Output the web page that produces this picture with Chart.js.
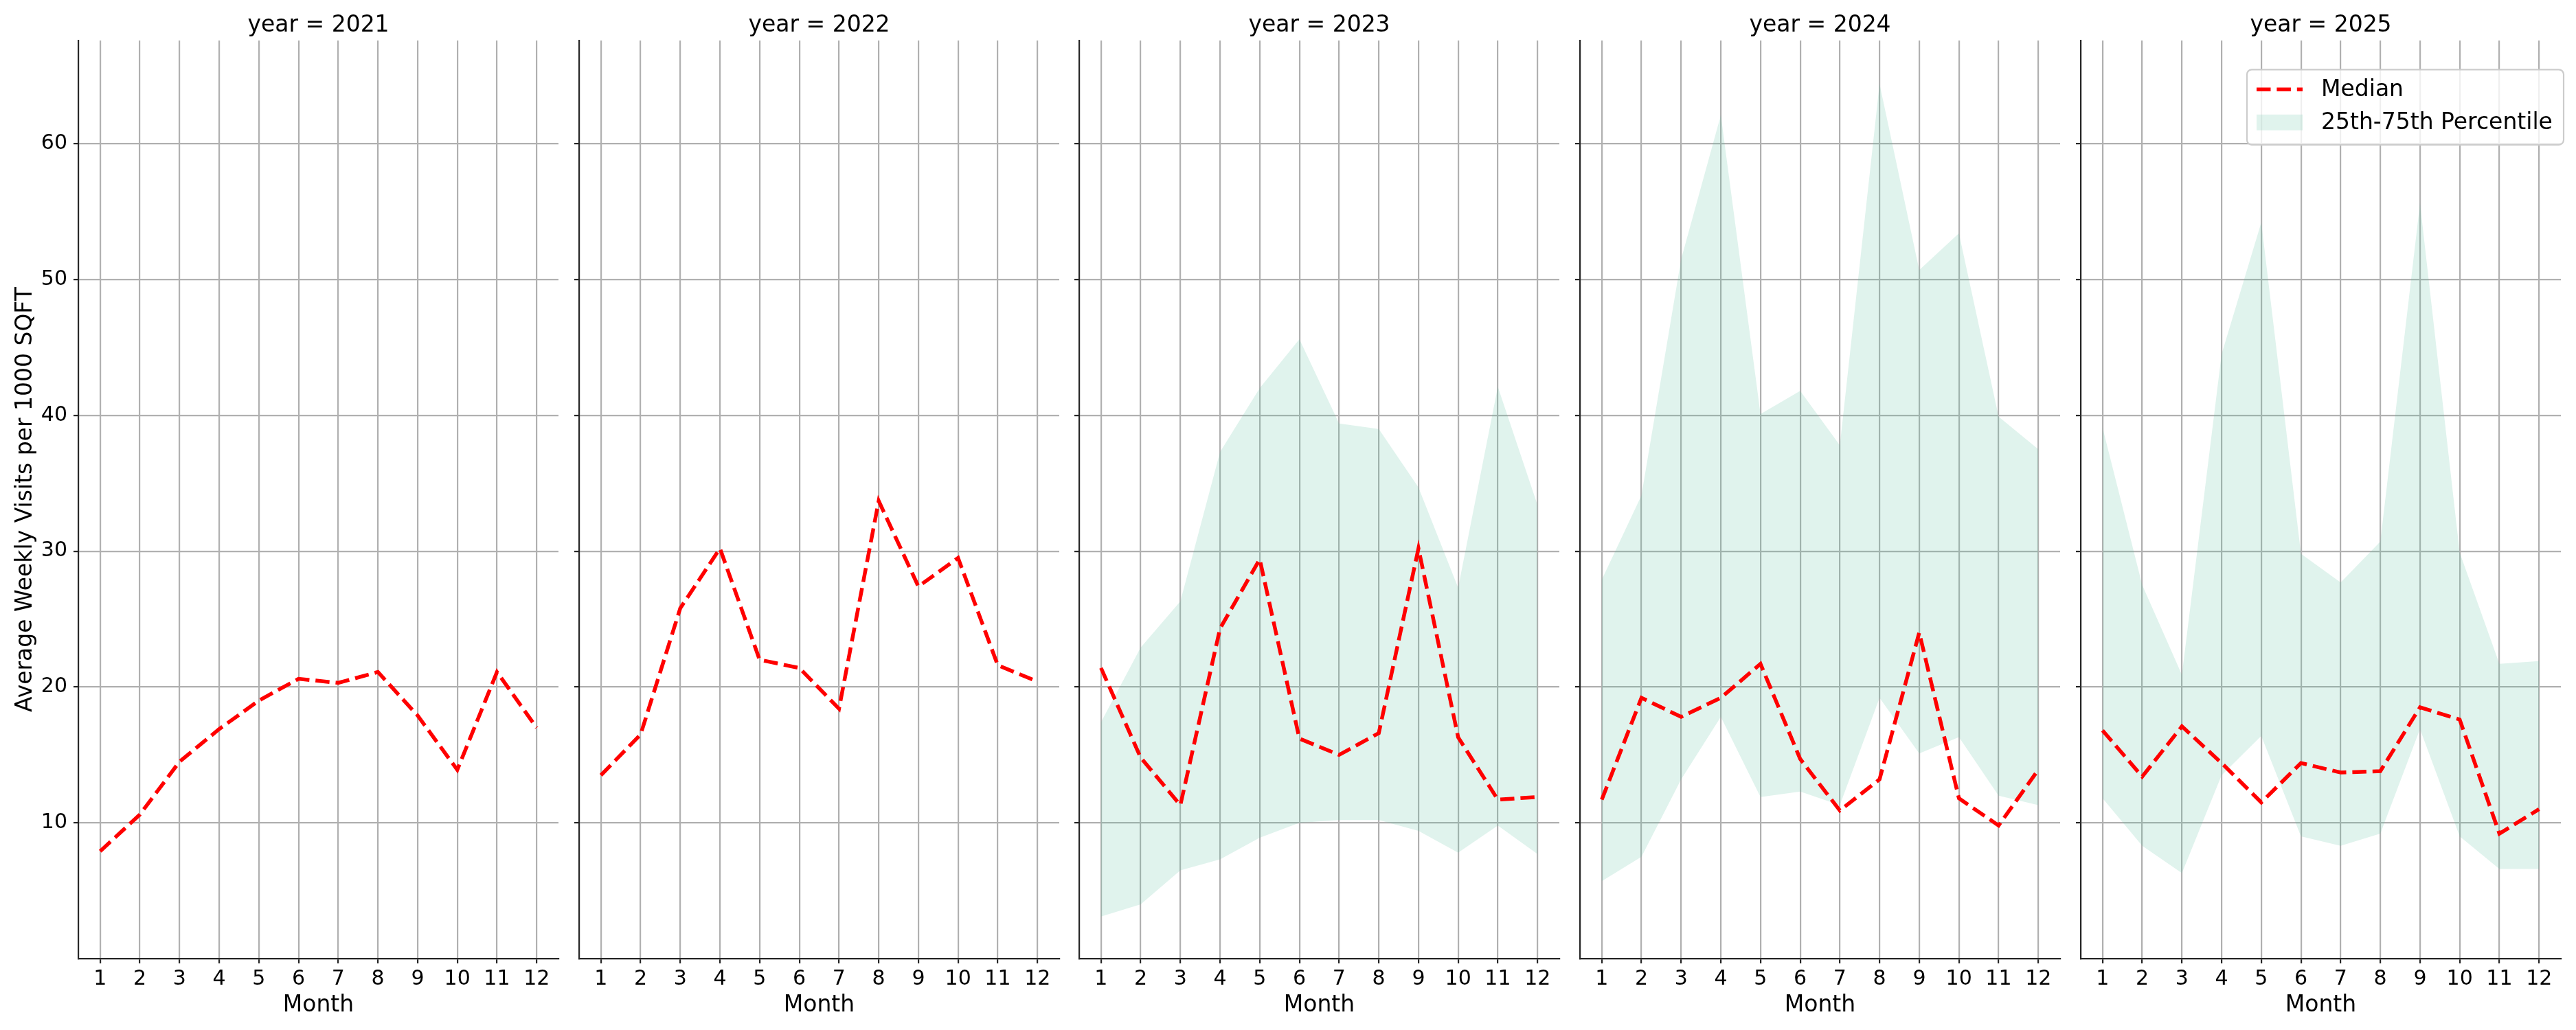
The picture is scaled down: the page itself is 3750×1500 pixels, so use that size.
<!DOCTYPE html>
<html>
<head>
<meta charset="utf-8">
<title>Average Weekly Visits per 1000 SQFT by year</title>
<script src="https://cdn.jsdelivr.net/npm/chart.js@4.4.1/dist/chart.umd.min.js"></script>
<style>
  html, body { margin: 0; padding: 0; background: #fff; }
  #wrap { position: relative; width: 3750px; height: 1500px; overflow: hidden; background: #fff; }
  #wrap canvas { position: absolute; top: 0; }
</style>
</head>
<body>
<div id="wrap"></div>
<script>
const years = [2021, 2022, 2023, 2024, 2025];
const months = [1, 2, 3, 4, 5, 6, 7, 8, 9, 10, 11, 12];
const yTicks = [10, 20, 30, 40, 50, 60];

// medianas por ano
const median2021 = [7.9, 10.6, 14.5, 16.9, 19.0, 20.6, 20.3, 21.1, 17.9, 13.9, 21.1, 17.0];
const median2022 = [13.5, 16.5, 25.8, 30.2, 22.0, 21.4, 18.4, 33.7, 27.4, 29.5, 21.6, 20.4];
const median2023 = [21.4, 14.8, 11.3, 24.3, 29.4, 16.2, 15.0, 16.6, 30.2, 16.3, 11.7, 11.9];
const median2024 = [11.7, 19.2, 17.8, 19.2, 21.7, 14.7, 10.9, 13.2, 24.0, 11.8, 9.8, 13.9];
const median2025 = [16.8, 13.4, 17.1, 14.4, 11.5, 14.4, 13.7, 13.8, 18.5, 17.6, 9.2, 11.0];

// faixa 25-75 (so existe a partir de 2023)
const p25_2023 = [3.1, 4.0, 6.5, 7.3, 8.9, 10.0, 10.2, 10.2, 9.4, 7.8, 9.8, 7.7];
const p75_2023 = [17.4, 22.9, 26.3, 37.3, 42.0, 45.6, 39.4, 39.0, 34.7, 27.3, 42.1, 33.4];
const p25_2024 = [5.7, 7.5, 13.2, 17.8, 11.9, 12.3, 11.3, 19.2, 15.1, 16.3, 12.0, 11.3];
const p75_2024 = [27.9, 34.1, 51.5, 62.1, 40.1, 41.8, 37.8, 64.4, 50.7, 53.4, 39.9, 37.5];
const p25_2025 = [11.8, 8.3, 6.3, 13.5, 16.4, 9.0, 8.3, 9.2, 16.9, 9.0, 6.6, 6.6];
const p75_2025 = [39.1, 27.5, 20.9, 44.5, 54.2, 29.8, 27.7, 30.7, 55.6, 29.9, 21.7, 21.9];

const medians = [median2021, median2022, median2023, median2024, median2025];
const lowers = [null, null, p25_2023, p25_2024, p25_2025];
const uppers = [null, null, p75_2023, p75_2024, p75_2025];

const FONT = 'DejaVu Sans';
const INK = '#262626';
const GRID = '#b0b0b0';
const BAND = 'rgba(102, 194, 165, 0.2)';
const PLOT_W = 699;
const RIGHT_PAD = 24;

Chart.defaults.font.family = FONT;
Chart.defaults.color = '#000';

const pts = (vals) => months.map((m, k) => ({ x: m, y: vals[k] }));

// legenda desenhada dentro do ultimo painel, com moldura
const legendBox = {
    id: 'legendBox',
    afterDraw(chart) {
        const { ctx, chartArea } = chart;
        const w = 461, h = 109.5;
        const x0 = chartArea.right + 4 - w;
        const y0 = chartArea.top + 42.3;
        ctx.save();
        ctx.beginPath();
        ctx.roundRect(x0, y0, w, h, 7);
        ctx.fillStyle = 'rgba(255,255,255,0.8)';
        ctx.fill();
        ctx.lineWidth = 2.2;
        ctx.strokeStyle = '#cccccc';
        ctx.stroke();

        const items = chart.data.datasets.filter(d => d.label);
        ctx.font = '33px "' + FONT + '"';
        ctx.textBaseline = 'middle';
        ctx.textAlign = 'left';
        items.forEach((ds, k) => {
            const yRow = y0 + 29 + k * 48;
            if (ds.fill) {
                ctx.fillStyle = ds.backgroundColor;
                ctx.fillRect(x0 + 14, yRow - 11.5, 67, 23);
            } else {
                ctx.beginPath();
                ctx.setLineDash(ds.borderDash);
                ctx.lineWidth = ds.borderWidth;
                ctx.strokeStyle = ds.borderColor;
                ctx.moveTo(x0 + 14, yRow);
                ctx.lineTo(x0 + 81, yRow);
                ctx.stroke();
                ctx.setLineDash([]);
            }
            ctx.fillStyle = '#000';
            ctx.fillText(ds.label, x0 + 108, yRow + 1);
        });
        ctx.restore();
    }
};

const wrap = document.getElementById('wrap');

years.forEach((year, i) => {
    const first = i === 0;
    const yW = first ? 114 : 20;
    const plotLeft = Math.round(114 + i * 728.7);

    const canvas = document.createElement('canvas');
    canvas.width = yW + PLOT_W + RIGHT_PAD;
    canvas.height = 1500;
    canvas.style.left = (plotLeft - yW) + 'px';
    wrap.appendChild(canvas);

    const datasets = [{
        label: 'Median',
        data: pts(medians[i]),
        borderColor: '#ff0000',
        borderWidth: 5.5,
        borderDash: [20.5, 8.9],
        borderCapStyle: 'butt',
        pointRadius: 0,
        tension: 0,
        fill: false
    }];
    if (uppers[i]) {
        datasets.push({
            label: '25th-75th Percentile',
            data: pts(uppers[i]),
            borderColor: 'transparent',
            borderWidth: 0,
            backgroundColor: BAND,
            pointRadius: 0,
            tension: 0,
            fill: '+1'
        });
        datasets.push({
            label: '',
            data: pts(lowers[i]),
            borderColor: 'transparent',
            borderWidth: 0,
            pointRadius: 0,
            tension: 0,
            fill: false
        });
    }

    new Chart(canvas, {
        type: 'line',
        data: { datasets },
        options: {
            responsive: false,
            animation: false,
            events: [],
            layout: { padding: { left: 0, right: RIGHT_PAD, top: 0, bottom: 0 } },
            plugins: {
                legend: { display: false },
                tooltip: { enabled: false },
                title: {
                    display: true,
                    text: 'year = ' + year,
                    fullSize: false,
                    color: '#000',
                    font: { size: 33, weight: 'normal' },
                    padding: { top: 18, bottom: 1.4 }
                }
            },
            scales: {
                x: {
                    type: 'linear',
                    bounds: 'data',
                    min: 0.45,
                    max: 12.55,
                    afterBuildTicks: (axis) => { axis.ticks = months.map(v => ({ value: v })); },
                    afterFit: (axis) => { axis.height = 104; },
                    grid: { color: GRID, lineWidth: 2.2, tickColor: INK, tickWidth: 2.2, tickLength: 7 },
                    border: { color: INK, width: 2.2 },
                    ticks: {
                        autoSkip: false, maxRotation: 0, padding: 5,
                        color: '#000', font: { size: 30 },
                        callback: (v) => String(v)
                    },
                    title: {
                        display: true, text: 'Month', color: '#000',
                        font: { size: 33 }, padding: { top: 16, bottom: 16 }
                    }
                },
                y: {
                    type: 'linear',
                    bounds: 'data',
                    min: 0,
                    max: 67.6,
                    afterBuildTicks: (axis) => { axis.ticks = yTicks.map(v => ({ value: v })); },
                    afterFit: (axis) => { axis.width = yW; },
                    grid: { color: GRID, lineWidth: 2.2, tickColor: INK, tickWidth: 2.2, tickLength: 7 },
                    border: { color: INK, width: 2.2 },
                    ticks: {
                        display: first, padding: 9,
                        color: '#000', font: { size: 30 },
                        callback: (v) => String(v)
                    },
                    title: {
                        display: first,
                        text: 'Average Weekly Visits per 1000 SQFT',
                        color: '#000',
                        font: { size: 33 },
                        padding: { top: 18, bottom: 18 }
                    }
                }
            }
        },
        plugins: i === years.length - 1 ? [legendBox] : []
    });
});
</script>
</body>
</html>
